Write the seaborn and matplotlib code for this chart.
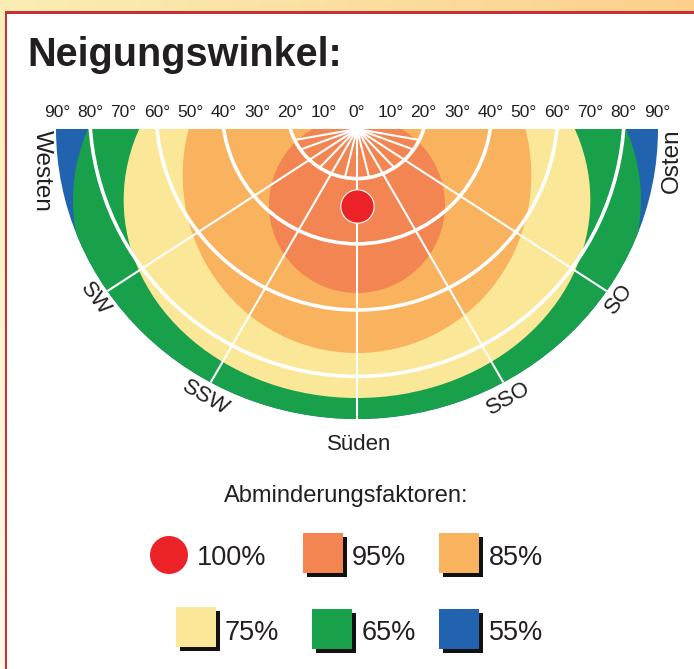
import numpy as np
import matplotlib
matplotlib.use("Agg")
import matplotlib.pyplot as plt
from matplotlib.patches import Ellipse, Circle, Rectangle
from matplotlib.colors import LinearSegmentedColormap
from matplotlib import font_manager
from matplotlib.font_manager import FontProperties
import seaborn as sns

# reduction factors and their colours
factor_labels = ["100%", "95%", "85%", "75%", "65%", "55%"]
factor_colors = ["#EC2229", "#F28552", "#F9B35E", "#FAE898", "#18A04A", "#2163AE"]

# zones in tilt-degree units (top line = 0, south = down), outermost first
zone_labels = ["55%", "65%", "75%", "85%", "95%"]
zone_center_y = [0.0, -21.3, -21.3, -13.8, -22.8]
zone_half_w = [90.3, 85.2, 70.0, 52.3, 26.4]
zone_half_h = [87.0, 66.6, 59.4, 53.4, 26.4]
optimum_x = [0.0]
optimum_y = [-23.1]

# grid
grid_tilts = [20, 40, 60, 80]
direction_names = ["SW", "SSW", "Süden", "SSO", "SO"]
direction_angles = [-57, -30, 0, 30, 57]
minor_spoke_angles = [-80, -70, -44, -14, 14, 44, 70, 80]
tick_values = [-90, -80, -70, -60, -50, -40, -30, -20, -10, 0,
               10, 20, 30, 40, 50, 60, 70, 80, 90]
tick_labels = ["90°", "80°", "70°", "60°", "50°", "40°", "30°", "20°", "10°", "0°",
               "10°", "20°", "30°", "40°", "50°", "60°", "70°", "80°", "90°"]

sns.set_theme(style="white")
plt.rcParams["font.family"] = ["Liberation Sans", "DejaVu Sans"]
text_col = "#231F20"

# narrow face for the degree scale if there is one
narrow_path = None
for f in font_manager.fontManager.ttflist:
    if f.name == "Liberation Sans Narrow" and f.style == "normal" and f.weight in (400, "normal", "regular"):
        narrow_path = f.fname
if narrow_path:
    tick_font = FontProperties(fname=narrow_path, size=14)
else:
    tick_font = FontProperties(family="Liberation Sans", size=12.5)

fig = plt.figure(figsize=(6.94, 6.69), dpi=100)

# background layer in pixel coordinates
bg = fig.add_axes([0, 0, 1, 1])
band = LinearSegmentedColormap.from_list("band", ["#FAEEB4", "#FDD08C"])
strip = LinearSegmentedColormap.from_list("strip", ["#FBEFB8", "#FEF9E8"])
bg.imshow(np.linspace(0, 1, 256).reshape(1, -1), extent=[0, 694, 11, 0], aspect="auto", cmap=band)
bg.imshow(np.linspace(0, 1, 256).reshape(-1, 1), extent=[0, 5, 669, 11], aspect="auto", cmap=strip)
bg.add_patch(Rectangle((5, 11), 689, 2.5, color="#CC2E36", lw=0))
bg.add_patch(Rectangle((5, 11), 2.5, 658, color="#CC2E36", lw=0))
bg.set_xlim(0, 694)
bg.set_ylim(669, 0)
bg.axis("off")

bg.text(27, 66, "Neigungswinkel:", fontsize=28.5, fontweight="bold", color=text_col,
        ha="left", va="baseline")
bg.text(346, 496, "Abminderungsfaktoren:", fontsize=17, color=text_col,
        ha="center", va="center")

# legend layout (pixels)
key_xy = [(169, 555), (303, 533), (439, 533), (176, 607), (312, 609), (439, 609)]
key_text_xy = [(197, 565), (352, 565), (489, 565), (225, 640), (362, 640), (489, 640)]
for i, (lab, col) in enumerate(zip(factor_labels, factor_colors)):
    kx, ky = key_xy[i]
    if i == 0:
        bg.add_patch(Circle((kx, ky), 19, color=col, lw=0))
    else:
        bg.add_patch(Rectangle((kx + 4, ky + 4), 40, 40, color="#111111", lw=0))
        bg.add_patch(Rectangle((kx, ky), 40, 40, color=col, lw=0))
    tx, ty = key_text_xy[i]
    bg.text(tx, ty, lab, fontsize=19.5, color=text_col, ha="left", va="baseline")

# diagram axes: 1 unit = 1 degree tilt = 3.33 px
ax = fig.add_axes([56 / 694, (669 - 419) / 669, 602 / 694, 290 / 669])
ax.set_facecolor("none")

zone_colors = [factor_colors[factor_labels.index(z)] for z in zone_labels]
outer = Ellipse((0, zone_center_y[0]), 2 * zone_half_w[0], 2 * zone_half_h[0],
                facecolor=zone_colors[0], edgecolor="none")
ax.add_patch(outer)
for cy, w, h, col in zip(zone_center_y[1:], zone_half_w[1:], zone_half_h[1:], zone_colors[1:]):
    e = ax.add_patch(Ellipse((0, cy), 2 * w, 2 * h, facecolor=col, edgecolor="none"))
    e.set_clip_path(outer)

# tilt circles (centred slightly above the top line)
for t in grid_tilts:
    c = ax.add_patch(Circle((0, 6), np.hypot(t, 6), fill=False, ec="white", lw=2.6))
    c.set_clip_path(outer)

# compass spokes
for a in direction_angles:
    r = np.radians(a)
    ln, = ax.plot([0, 110 * np.sin(r)], [0, -110 * np.cos(r)], color="white", lw=1.5,
                  solid_capstyle="butt")
    ln.set_clip_path(outer)
inner = Circle((0, 6), np.hypot(grid_tilts[0], 6), transform=ax.transData)
for a in minor_spoke_angles:
    r = np.radians(a)
    ln, = ax.plot([0, 40 * np.sin(r)], [0, -40 * np.cos(r)], color="white", lw=1.5,
                  solid_capstyle="butt")
    ln.set_clip_path(inner)

sns.scatterplot(x=optimum_x, y=optimum_y, s=576, color=factor_colors[0],
                edgecolor="white", linewidth=0.8, ax=ax, zorder=5)

# direction labels
dir_label_xy = [(-78.7, -51.0), (-45.5, -80.7), (0.5, -94.5), (45.5, -80.7), (78.7, -51.0)]
dir_label_rot = [-53, -30, 0, 30, 53]
for name, (x, y), rot in zip(direction_names, dir_label_xy, dir_label_rot):
    ax.text(x, y, name, rotation=rot, rotation_mode="anchor", ha="center", va="center",
            fontsize=16, color=text_col, clip_on=False)
ax.text(-94.5, -12.6, "Westen", rotation=-90, rotation_mode="anchor", ha="center",
        va="center", fontsize=17.5, color=text_col, clip_on=False)
ax.text(94.5, -9.5, "Osten", rotation=90, rotation_mode="anchor", ha="center",
        va="center", fontsize=17.5, color=text_col, clip_on=False)

ax.set_xlim(-90.3, 90.3)
ax.set_ylim(-87, 0)
ax.xaxis.tick_top()
ax.set_xticks(tick_values)
ax.set_xticklabels(tick_labels, fontproperties=tick_font, color=text_col)
ax.set_yticks([])
ax.tick_params(axis="x", length=0, pad=6.5)
ax.set_xlabel("")
ax.set_ylabel("")
ax.grid(False)
for s in ax.spines.values():
    s.set_visible(False)

fig.savefig("out.png", dpi=100)
